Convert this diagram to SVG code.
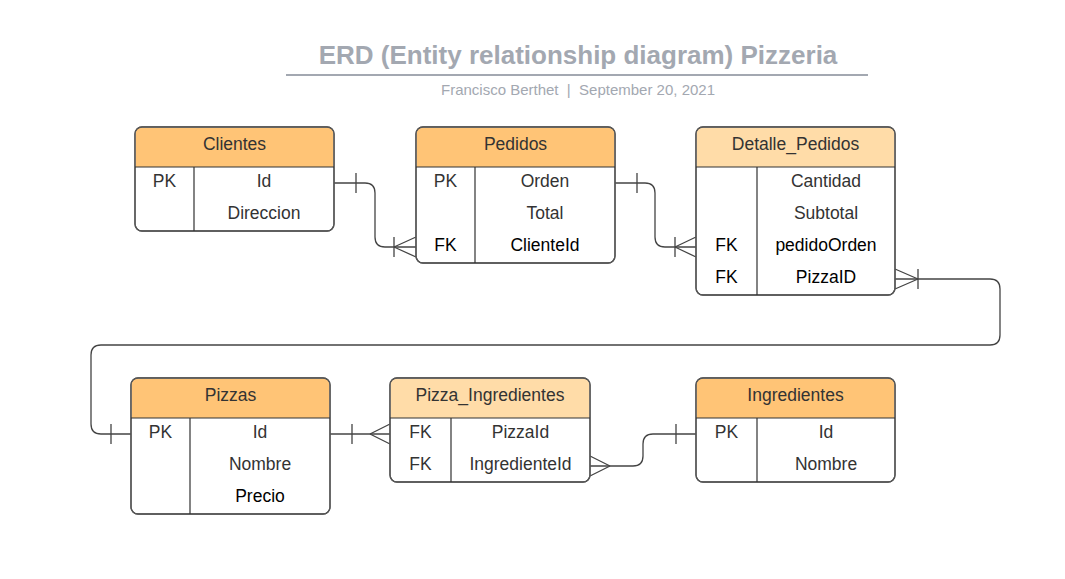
<svg xmlns="http://www.w3.org/2000/svg" width="1065" height="579" viewBox="0 0 1065 579">
<style>
.t{font-family:"Liberation Sans",Arial,sans-serif;font-size:17.5px;fill:#333;text-anchor:middle}
.d{fill:#000}
.box{fill:#fff;stroke:#555;stroke-width:1.3}
.h1{fill:#FFC476}
.h2{fill:#FFDCA8}
.ln{stroke:#333;stroke-width:1.2;fill:none}
.c{stroke:#444;stroke-width:1.3;fill:none}
</style>
<rect width="1065" height="579" fill="#fff"/>
<g id="title">
<text x="578" y="64" style="font-family:'Liberation Sans',Arial,sans-serif;font-size:26px;font-weight:bold;fill:#A3A8B1;text-anchor:middle">ERD (Entity relationship diagram) Pizzeria</text>
<line x1="286" y1="75" x2="868" y2="75" stroke="#A3A8B1" stroke-width="2"/>
<text x="578" y="95" xml:space="preserve" style="font-family:'Liberation Sans',Arial,sans-serif;font-size:15px;fill:#A3A8B1;text-anchor:middle">Francisco Berthet  |  September 20, 2021</text>
</g>
<g id="connectors">
<path class="c" d="M334 183 H365 Q375 183 375 193 V237 Q375 247 385 247 H416"/>
<path class="c" d="M356 173 V193 M394 237 V257 M394 247 L416 237 M394 247 L416 257"/>
<path class="c" d="M615 183 H645 Q655 183 655 193 V237 Q655 247 665 247 H696"/>
<path class="c" d="M637 173 V193 M675 237 V257 M675 247 L696 237 M675 247 L696 257"/>
<path class="c" d="M895 279 H990 Q1000 279 1000 289 V335 Q1000 345 990 345 H101 Q91 345 91 355 V424 Q91 434 101 434 H131"/>
<path class="c" d="M918 269 V289 M918 279 L895 269 M918 279 L895 289 M111 424 V444"/>
<path class="c" d="M330 434 H390"/>
<path class="c" d="M352 424 V444 M370 434 L390 424 M370 434 L390 444"/>
<path class="c" d="M590 466 H633 Q643 466 643 456 V444 Q643 434 653 434 H696"/>
<path class="c" d="M610 466 L590 456 M610 466 L590 476 M676 424 V444"/>
</g>
<g id="clientes">
<rect class="box" x="135" y="127" width="199" height="104" rx="7"/>
<path class="h1" d="M135.7 167 V134 Q135.7 127.7 142 127.7 H327 Q333.3 127.7 333.3 134 V167 Z"/>
<rect x="135" y="127" width="199" height="104" rx="7" fill="none" stroke="#555" stroke-width="1.3"/>
<path class="ln" d="M135 167 H334 M194 167 V231"/>
<text class="t" x="234.5" y="150">Clientes</text>
<text class="t" x="164.5" y="187">PK</text>
<text class="t" x="264" y="187">Id</text>
<text class="t" x="264" y="219">Direccion</text>
</g>
<g id="pedidos">
<rect class="box" x="416" y="127" width="199" height="136" rx="7"/>
<path class="h1" d="M416.7 167 V134 Q416.7 127.7 423 127.7 H608 Q614.3 127.7 614.3 134 V167 Z"/>
<rect x="416" y="127" width="199" height="136" rx="7" fill="none" stroke="#555" stroke-width="1.3"/>
<path class="ln" d="M416 167 H615 M475 167 V263"/>
<text class="t" x="515.5" y="150">Pedidos</text>
<text class="t" x="445.5" y="187">PK</text>
<text class="t" x="545" y="187">Orden</text>
<text class="t" x="545" y="219">Total</text>
<text class="t d" x="445.5" y="251">FK</text>
<text class="t d" x="545" y="251">ClienteId</text>
</g>
<g id="detalle_pedidos">
<rect class="box" x="696" y="127" width="199" height="168" rx="7"/>
<path class="h2" d="M696.7 167 V134 Q696.7 127.7 703 127.7 H888 Q894.3 127.7 894.3 134 V167 Z"/>
<rect x="696" y="127" width="199" height="168" rx="7" fill="none" stroke="#555" stroke-width="1.3"/>
<path class="ln" d="M696 167 H895 M757 167 V295"/>
<text class="t" x="795.5" y="150">Detalle_Pedidos</text>
<text class="t" x="826" y="187">Cantidad</text>
<text class="t" x="826" y="219">Subtotal</text>
<text class="t d" x="726.5" y="251">FK</text>
<text class="t d" x="826" y="251">pedidoOrden</text>
<text class="t d" x="726.5" y="283">FK</text>
<text class="t d" x="826" y="283">PizzaID</text>
</g>
<g id="pizzas">
<rect class="box" x="131" y="378" width="199" height="136" rx="7"/>
<path class="h1" d="M131.7 418 V385 Q131.7 378.7 138 378.7 H323 Q329.3 378.7 329.3 385 V418 Z"/>
<rect x="131" y="378" width="199" height="136" rx="7" fill="none" stroke="#555" stroke-width="1.3"/>
<path class="ln" d="M131 418 H330 M190 418 V514"/>
<text class="t" x="230.5" y="401">Pizzas</text>
<text class="t" x="160.5" y="438">PK</text>
<text class="t" x="260" y="438">Id</text>
<text class="t" x="260" y="470">Nombre</text>
<text class="t d" x="260" y="502">Precio</text>
</g>
<g id="pizza_ingredientes">
<rect class="box" x="390" y="378" width="200" height="104" rx="7"/>
<path class="h2" d="M390.7 418 V385 Q390.7 378.7 397 378.7 H583 Q589.3 378.7 589.3 385 V418 Z"/>
<rect x="390" y="378" width="200" height="104" rx="7" fill="none" stroke="#555" stroke-width="1.3"/>
<path class="ln" d="M390 418 H590 M451 418 V482"/>
<text class="t" x="490" y="401">Pizza_Ingredientes</text>
<text class="t" x="420.5" y="438">FK</text>
<text class="t" x="520.5" y="438">PizzaId</text>
<text class="t" x="420.5" y="470">FK</text>
<text class="t" x="520.5" y="470">IngredienteId</text>
</g>
<g id="ingredientes">
<rect class="box" x="696" y="378" width="199" height="104" rx="7"/>
<path class="h1" d="M696.7 418 V385 Q696.7 378.7 703 378.7 H888 Q894.3 378.7 894.3 385 V418 Z"/>
<rect x="696" y="378" width="199" height="104" rx="7" fill="none" stroke="#555" stroke-width="1.3"/>
<path class="ln" d="M696 418 H895 M757 418 V482"/>
<text class="t" x="795.5" y="401">Ingredientes</text>
<text class="t" x="726.5" y="438">PK</text>
<text class="t" x="826" y="438">Id</text>
<text class="t" x="826" y="470">Nombre</text>
</g>
</svg>
